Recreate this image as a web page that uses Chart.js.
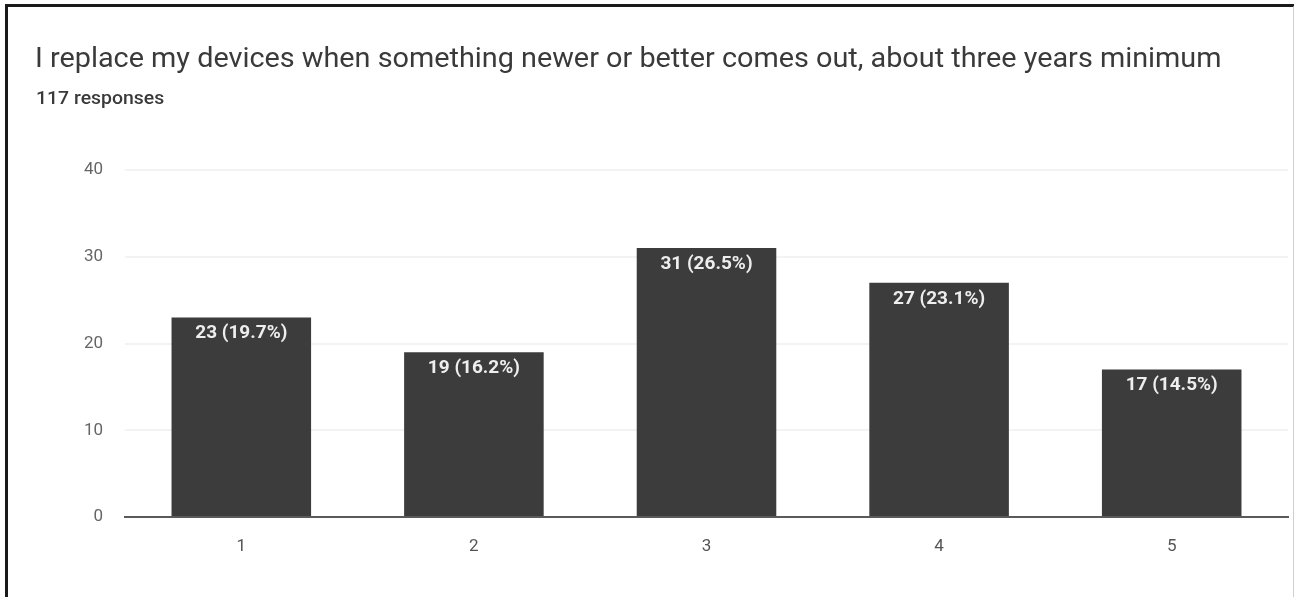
<!DOCTYPE html>
<html>
<head>
<meta charset="utf-8">
<script src="https://cdn.jsdelivr.net/npm/chart.js@4"></script>
<style>
    html, body { margin: 0; padding: 0; background: #fff; }
    #wrap { position: relative; width: 1294px; height: 597px; overflow: hidden; }
    #frame {
        position: absolute; left: 5px; top: 4px; width: 1285px; height: 600px;
        border-left: 3px solid #1a1a1a; border-top: 3px solid #1a1a1a;
        border-right: 2px solid #cfcfcf;
    }
    #title {
        position: absolute; left: 35px; top: 42px; white-space: nowrap;
        font-family: Roboto, "Noto Sans", sans-serif; font-size: 27px; color: #3a3a3a;
        transform: scaleX(1.067); transform-origin: left top;
    }
    #subtitle {
        position: absolute; left: 36px; top: 87px; white-space: nowrap;
        font-family: Roboto, "Noto Sans", sans-serif; font-size: 18px; font-weight: 500; color: #3a3a3a;
        transform: scaleX(1.08); transform-origin: left top;
    }
    canvas { position: absolute; left: 0; top: 0; }
</style>
</head>
<body>
<div id="wrap">
    <canvas id="chart" width="1294" height="597"></canvas>
    <div id="frame"></div>
    <div id="title">I replace my devices when something newer or better comes out, about three years minimum</div>
    <div id="subtitle">117 responses</div>
</div>
<script>
const categories = ['1', '2', '3', '4', '5'];
const counts = [23, 19, 31, 27, 17];
const percents = ['19.7%', '16.2%', '26.5%', '23.1%', '14.5%'];
const yTicks = [0, 10, 20, 30, 40];

// white "count (pct)" text inside the top of each bar
const barLabels = {
    id: 'barLabels',
    afterDatasetsDraw(chart) {
        const ctx = chart.ctx;
        const meta = chart.getDatasetMeta(0);
        ctx.save();
        ctx.fillStyle = '#eeeeee';
        ctx.font = 'bold 19px Roboto, "Noto Sans", sans-serif';
        ctx.textAlign = 'center';
        ctx.textBaseline = 'middle';
        meta.data.forEach((bar, i) => {
            ctx.fillText(counts[i] + ' (' + percents[i] + ')', bar.x, bar.y + 16);
        });
        ctx.restore();
    }
};

new Chart(document.getElementById('chart'), {
    type: 'bar',
    data: {
        labels: categories,
        datasets: [{
            data: counts,
            backgroundColor: '#3c3c3c',
            barPercentage: 0.6,
            categoryPercentage: 1.0
        }]
    },
    options: {
        responsive: false,
        animation: false,
        layout: { padding: { left: 0, right: 6, top: 170, bottom: 0 } },
        plugins: {
            legend: { display: false },
            tooltip: { enabled: false }
        },
        scales: {
            x: {
                grid: { display: false, drawTicks: false },
                border: { display: true, color: '#5a5a5a', width: 2 },
                ticks: {
                    color: '#555',
                    font: { family: 'Roboto, "Noto Sans", sans-serif', size: 17 },
                    padding: 20
                },
                afterFit: s => { s.height = 80; }
            },
            y: {
                min: 0,
                max: 40,
                afterBuildTicks: s => { s.ticks = yTicks.map(v => ({ value: v })); },
                grid: { color: '#f3f3f3', lineWidth: 2, drawTicks: false },
                border: { display: false },
                ticks: {
                    color: '#666',
                    font: { family: 'Roboto, "Noto Sans", sans-serif', size: 17 },
                    padding: 22
                },
                afterFit: s => { s.width = 125; }
            }
        }
    },
    plugins: [barLabels]
});
</script>
</body>
</html>
